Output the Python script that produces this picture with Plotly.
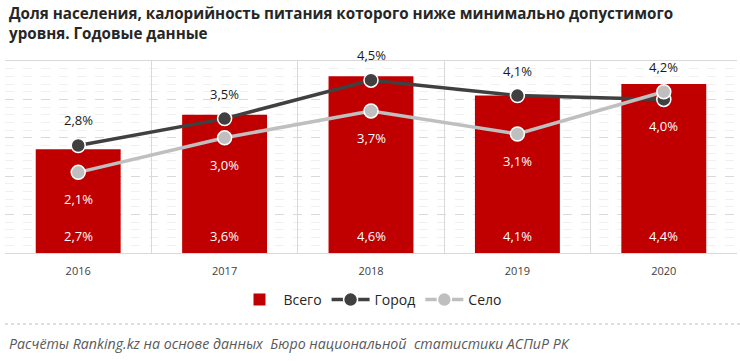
import plotly.graph_objects as go

years = ["2016", "2017", "2018", "2019", "2020"]
total = [2.7, 3.6, 4.6, 4.1, 4.4]
city = [2.8, 3.5, 4.5, 4.1, 4.0]
village = [2.1, 3.0, 3.7, 3.1, 4.2]

W, H = 740, 361
L, R, T, B = 5, 3, 61, 108
ph = H - T - B
pw = W - L - R

def fmt(v):
    return f"{v:.1f}%".replace(".", ",")

fig = go.Figure()
fig.add_trace(go.Bar(x=years, y=total, name="Всего", marker=dict(color="#C00000", line=dict(width=0)),
                     width=0.58))
fig.add_trace(go.Scatter(x=years, y=city, name="Город", mode="lines+markers",
                         line=dict(color="#404040", width=3.5),
                         marker=dict(size=14, color="#404040", line=dict(color="white", width=1.5))))
fig.add_trace(go.Scatter(x=years, y=village, name="Село", mode="lines+markers",
                         line=dict(color="#BFBFBF", width=3.5),
                         marker=dict(size=14, color="#BFBFBF", line=dict(color="white", width=1.5))))

ann = []
lab_font = dict(family="Open Sans", size=13)
for i, y in enumerate(years):
    ann.append(dict(x=i, y=0, text=fmt(total[i]), showarrow=False, yanchor="middle", yshift=17,
                    font=dict(lab_font, color="white")))
    hi, lo = (city[i], village[i]) if city[i] >= village[i] else (village[i], city[i])
    ann.append(dict(x=i, y=hi, text=fmt(hi), showarrow=False, yanchor="middle", yshift=25,
                    font=dict(lab_font, color="#1a1a1a")))
    ann.append(dict(x=i, y=lo, text=fmt(lo), showarrow=False, yanchor="middle", yshift=-27,
                    font=dict(lab_font, color="white")))

ann.append(dict(xref="paper", yref="paper", x=2 / pw, xanchor="left",
                y=-(343 - (T + ph)) / ph, yanchor="middle", showarrow=False,
                text="<i>Расчёты Ranking.kz на основе данных  Бюро национальной  статистики АСПиР РК</i>",
                font=dict(family="Open Sans", size=14.2, color="#595959")))
ann.append(dict(xref="paper", yref="paper", x=2 / pw, xanchor="left",
                y=1 + (T - 1) / ph, yanchor="top", showarrow=False, align="left",
                text="<b>Доля населения, калорийность питания которого ниже минимально допустимого<br>уровня. Годовые данные</b>",
                font=dict(family="Open Sans", size=15.2, color="#262626")))

fig.update_layout(
    width=W, height=H, margin=dict(l=L, r=R, t=T, b=B),
    paper_bgcolor="white", plot_bgcolor="white",
    showlegend=True,
    legend=dict(orientation="h", x=0.5, xanchor="center", yref="container", y=1 - 300 / H, yanchor="middle",
                font=dict(family="Open Sans", size=14, color="#262626"), itemwidth=38, traceorder="normal"),
    annotations=ann,
    shapes=[dict(type="line", xref="paper", yref="paper", x0=0, x1=1.004,
                 y0=-(324 - (T + ph)) / ph, y1=-(324 - (T + ph)) / ph,
                 line=dict(color="#BFBFBF", width=1, dash="dot"))],
)
fig.update_xaxes(type="category", range=[-0.5, len(years) - 0.5], showgrid=True, tickson="boundaries",
                 gridcolor="#D9D9D9", gridwidth=1,
                 showline=True, linecolor="#D9D9D9", mirror=True, ticks="", ticklabelstandoff=8,
                 tickfont=dict(family="Open Sans", size=11, color="#404040"))
fig.update_yaxes(range=[0, 5], dtick=1, showticklabels=False, showgrid=True, griddash="dash",
                 gridcolor="#D9D9D9", gridwidth=1, zeroline=False, showline=False,
                 minor=dict(dtick=0.2, showgrid=True, gridcolor="#F0F0F0", gridwidth=1))

fig.write_html("out.html", config={"displayModeBar": False},
               post_script="document.body.style.margin='0';document.body.style.overflow='hidden';")
